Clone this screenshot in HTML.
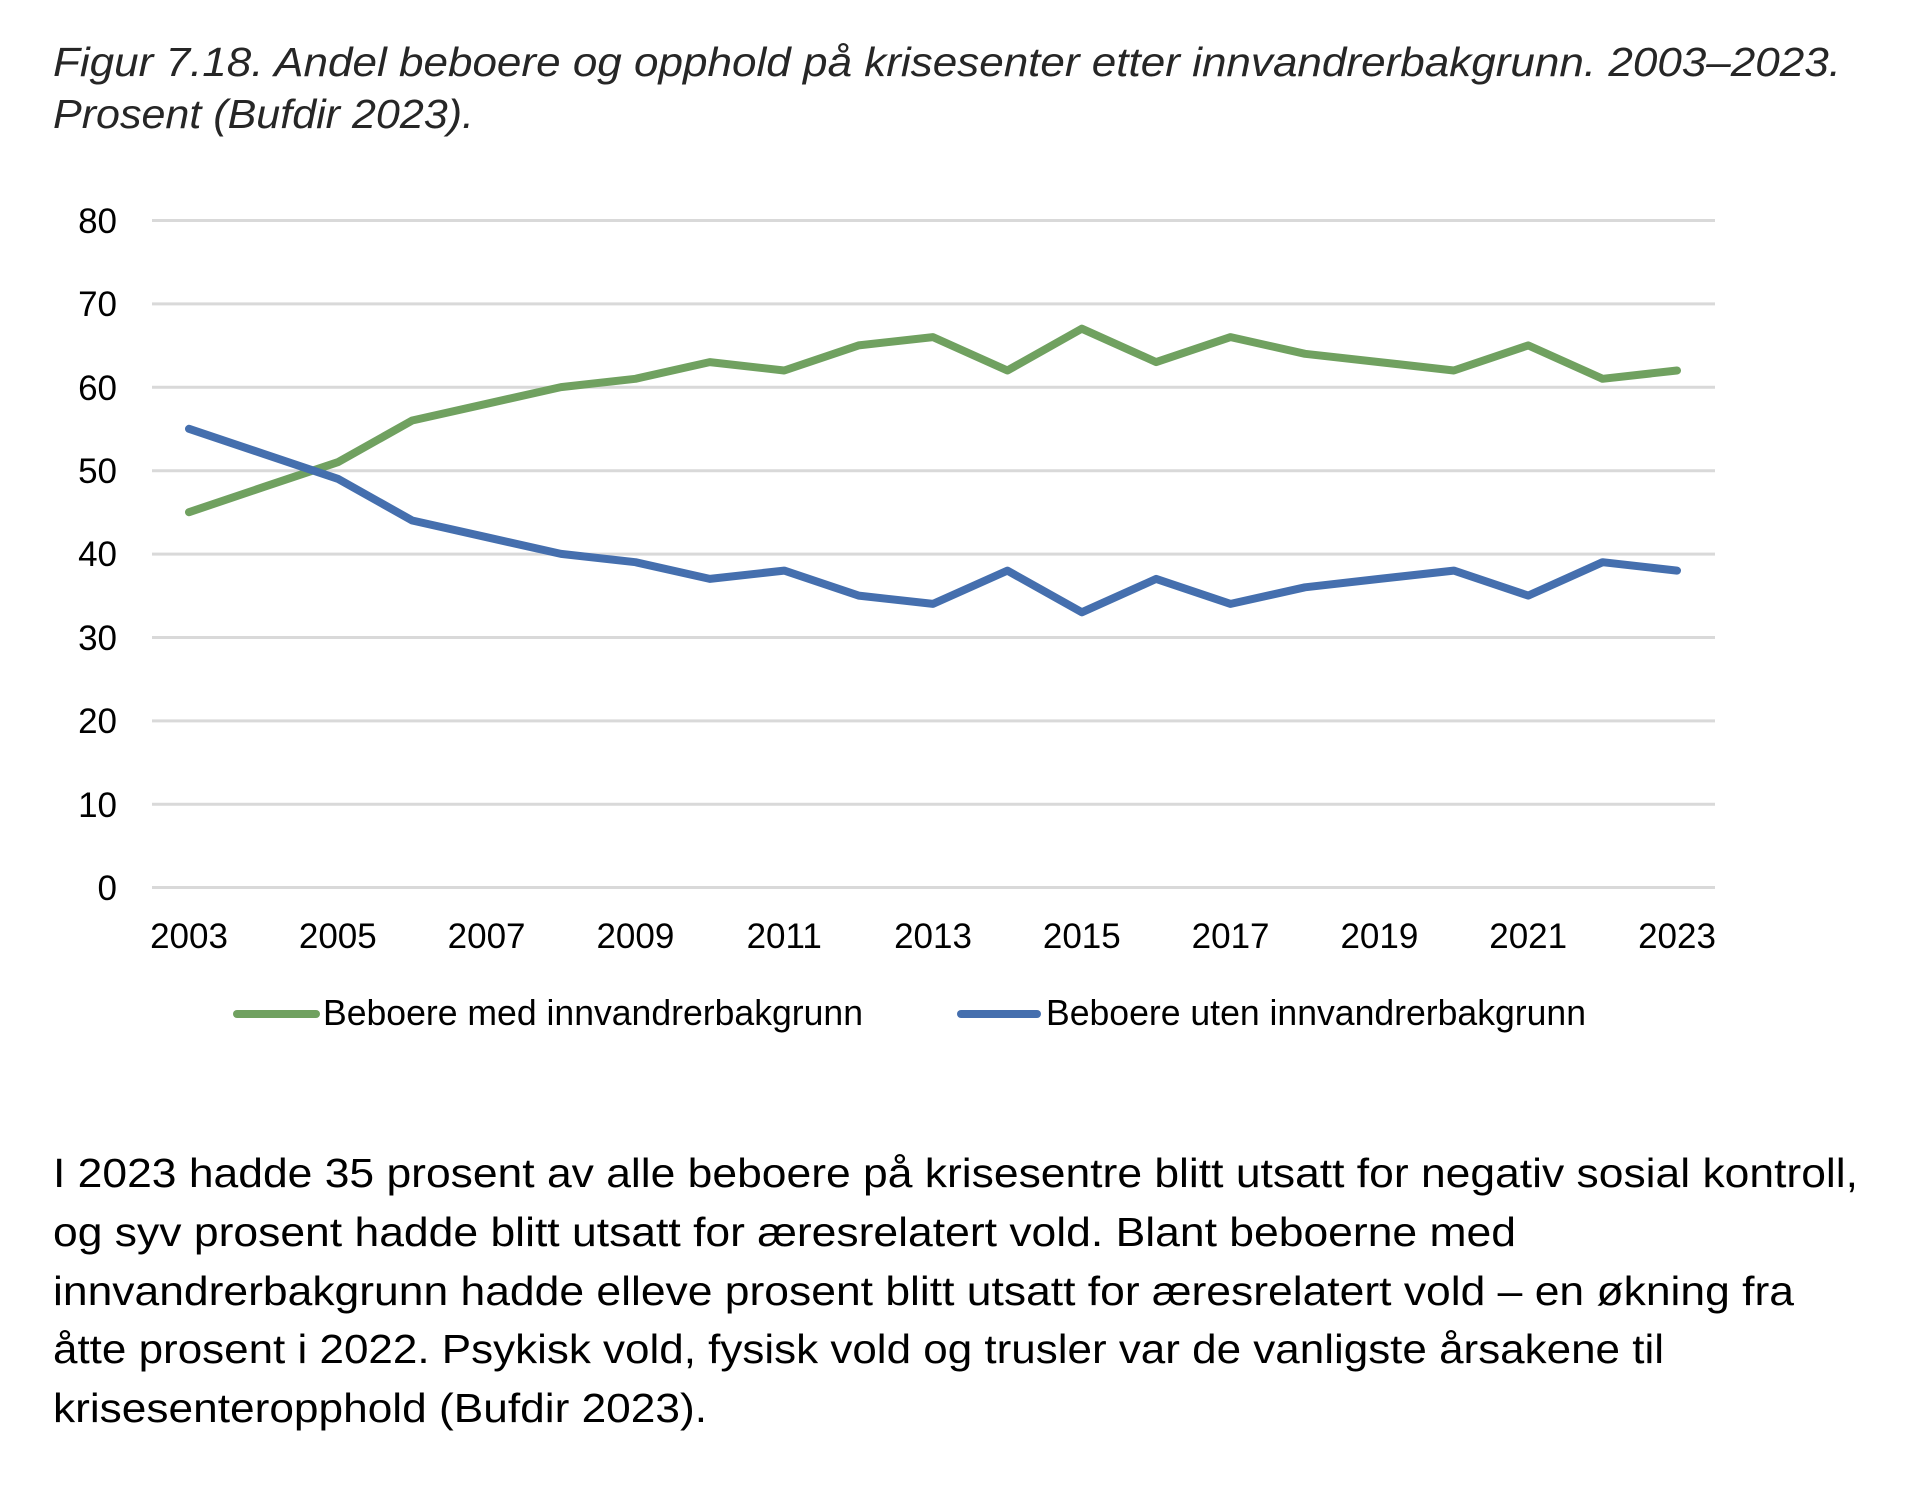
<!DOCTYPE html>
<html><head><meta charset="utf-8"><style>html,body{margin:0;padding:0;background:#fff}</style></head>
<body>
<svg width="1916" height="1486" viewBox="0 0 1916 1486" xmlns="http://www.w3.org/2000/svg" font-family="'Liberation Sans', 'DejaVu Sans', sans-serif">
<g font-style="italic" fill="#262626" font-size="41">
<text x="53" y="76" textLength="1788" lengthAdjust="spacingAndGlyphs">Figur 7.18. Andel beboere og opphold på krisesenter etter innvandrerbakgrunn. 2003–2023.</text>
<text x="53" y="128" textLength="421" lengthAdjust="spacingAndGlyphs">Prosent (Bufdir 2023).</text>
</g>
<g stroke="#d9d9d9" stroke-width="3">
<line x1="152" x2="1715" y1="220.5" y2="220.5"/>
<line x1="152" x2="1715" y1="303.9" y2="303.9"/>
<line x1="152" x2="1715" y1="387.3" y2="387.3"/>
<line x1="152" x2="1715" y1="470.7" y2="470.7"/>
<line x1="152" x2="1715" y1="554.1" y2="554.1"/>
<line x1="152" x2="1715" y1="637.5" y2="637.5"/>
<line x1="152" x2="1715" y1="720.9" y2="720.9"/>
<line x1="152" x2="1715" y1="804.3" y2="804.3"/>
<line x1="152" x2="1715" y1="887.5" y2="887.5"/>
</g>
<g font-size="35" fill="#000" text-anchor="end">
<text x="117" y="233">80</text><text x="117" y="316">70</text><text x="117" y="400">60</text><text x="117" y="483">50</text><text x="117" y="566">40</text><text x="117" y="650">30</text><text x="117" y="733">20</text><text x="117" y="817">10</text><text x="117" y="900">0</text>
</g>
<g font-size="35" fill="#000" text-anchor="middle">
<text x="189" y="948">2003</text><text x="337.8" y="948">2005</text><text x="486.6" y="948">2007</text><text x="635.4" y="948">2009</text><text x="784.2" y="948">2011</text><text x="933" y="948">2013</text><text x="1081.8" y="948">2015</text><text x="1230.6" y="948">2017</text><text x="1379.4" y="948">2019</text><text x="1528.2" y="948">2021</text><text x="1677" y="948">2023</text>
</g>
<polyline fill="none" stroke="#70a160" stroke-width="8" stroke-linecap="round" stroke-linejoin="round" points="189,512.2 263.4,487.1 337.8,462.2 412.2,420.5 486.6,403.8 561,387.1 635.4,378.8 709.8,362.1 784.2,370.5 858.6,345.4 933,337.1 1007.4,370.5 1081.8,328.7 1156.2,362.1 1230.6,337.1 1305,353.8 1379.4,362.1 1453.8,370.5 1528.2,345.4 1602.6,378.8 1677,370.5"/>
<polyline fill="none" stroke="#456fae" stroke-width="8" stroke-linecap="round" stroke-linejoin="round" points="189,428.8 263.4,453.8 337.8,478.8 412.2,520.5 486.6,537.2 561,553.9 635.4,562.2 709.8,578.9 784.2,570.6 858.6,595.6 933,603.9 1007.4,570.6 1081.8,612.3 1156.2,578.9 1230.6,603.9 1305,587.3 1379.4,578.9 1453.8,570.6 1528.2,595.6 1602.6,562.2 1677,570.6"/>
<line x1="237" x2="316" y1="1014" y2="1014" stroke="#70a160" stroke-width="8" stroke-linecap="round"/>
<text x="323" y="1025" font-size="36" textLength="540" lengthAdjust="spacingAndGlyphs">Beboere med innvandrerbakgrunn</text>
<line x1="961" x2="1037" y1="1014" y2="1014" stroke="#456fae" stroke-width="8" stroke-linecap="round"/>
<text x="1046" y="1025" font-size="36" textLength="540" lengthAdjust="spacingAndGlyphs">Beboere uten innvandrerbakgrunn</text>
<g font-size="41" fill="#000">
<text x="53" y="1187" textLength="1805" lengthAdjust="spacingAndGlyphs">I 2023 hadde 35 prosent av alle beboere på krisesentre blitt utsatt for negativ sosial kontroll,</text>
<text x="53" y="1246" textLength="1463" lengthAdjust="spacingAndGlyphs">og syv prosent hadde blitt utsatt for æresrelatert vold. Blant beboerne med</text>
<text x="53" y="1305" textLength="1741" lengthAdjust="spacingAndGlyphs">innvandrerbakgrunn hadde elleve prosent blitt utsatt for æresrelatert vold – en økning fra</text>
<text x="53" y="1363" textLength="1611" lengthAdjust="spacingAndGlyphs">åtte prosent i 2022. Psykisk vold, fysisk vold og trusler var de vanligste årsakene til</text>
<text x="53" y="1422" textLength="654" lengthAdjust="spacingAndGlyphs">krisesenteropphold (Bufdir 2023).</text>
</g>
</svg>
</body></html>
